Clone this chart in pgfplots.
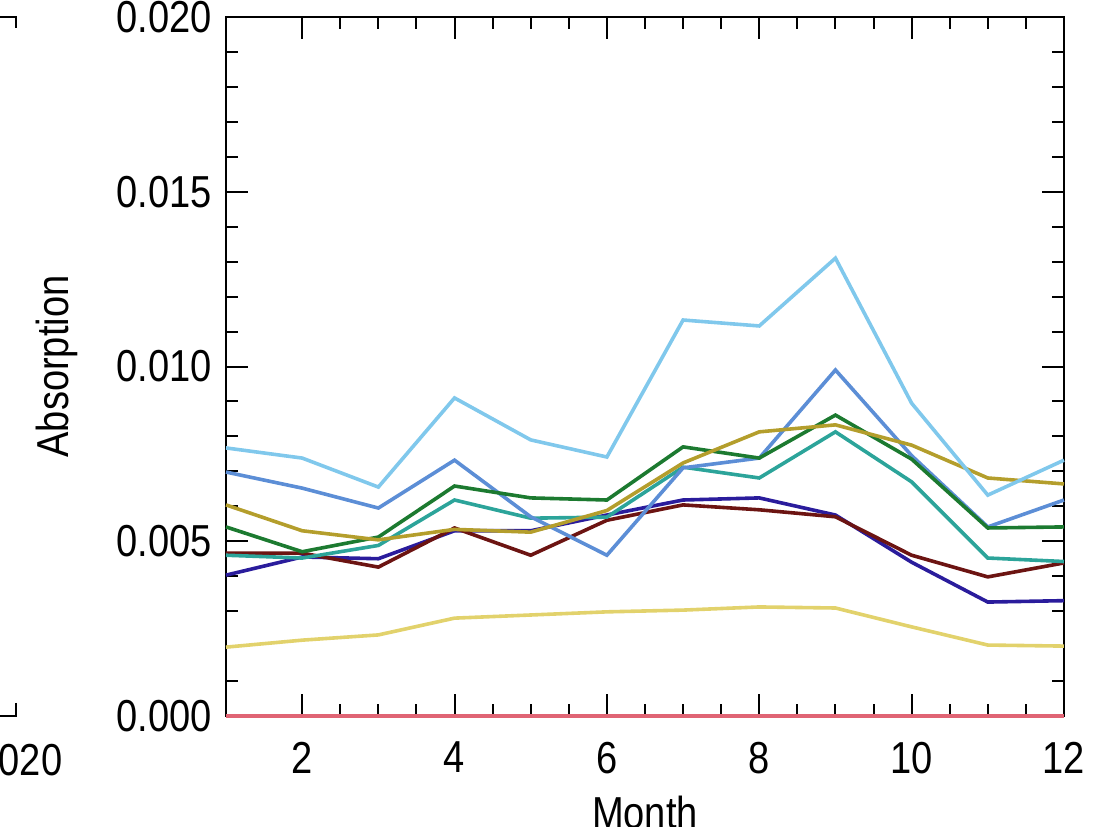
\documentclass[border=0pt]{standalone}
\usepackage{pgfplots}
\usepackage{pgfplotstable}
\pgfplotsset{compat=1.18}
\usepackage{fontspec}
\setmainfont[FakeStretch=0.85]{Liberation Sans}

\definecolor{skyline}{HTML}{80C8EC}
\definecolor{cornline}{HTML}{5C8ED6}
\definecolor{navyline}{HTML}{2A1C9C}
\definecolor{greenline}{HTML}{1C7A30}
\definecolor{tealline}{HTML}{2CA49A}
\definecolor{oliveline}{HTML}{B49E2C}
\definecolor{yellowline}{HTML}{E2D26C}
\definecolor{maroonline}{HTML}{6C1412}
\definecolor{pinkline}{HTML}{E06474}

% monthly absorption, one column per series
\pgfplotstableread{
m   sky      corn     green    olive    teal     maroon   navy     yellow   zero
1   0.00767  0.00698  0.00541  0.00604  0.00460  0.00466  0.00403  0.00197  0
2   0.00738  0.00652  0.00470  0.00530  0.00452  0.00466  0.00455  0.00217  0
3   0.00655  0.00595  0.00512  0.00504  0.00488  0.00426  0.00450  0.00232  0
4   0.00910  0.00732  0.00658  0.00534  0.00618  0.00538  0.00530  0.00280  0
5   0.00790  0.00570  0.00624  0.00526  0.00566  0.00460  0.00530  0.00289  0
6   0.00741  0.00460  0.00618  0.00588  0.00569  0.00560  0.00575  0.00298  0
7   0.01133  0.00710  0.00770  0.00724  0.00712  0.00604  0.00618  0.00303  0
8   0.01116  0.00738  0.00738  0.00813  0.00681  0.00590  0.00624  0.00312  0
9   0.01310  0.00990  0.00861  0.00833  0.00813  0.00570  0.00575  0.00309  0
10  0.00895  0.00745  0.00735  0.00775  0.00670  0.00460  0.00440  0.00255  0
11  0.00632  0.00541  0.00538  0.00681  0.00452  0.00398  0.00326  0.00203  0
12  0.00732  0.00618  0.00541  0.00664  0.00442  0.00438  0.00330  0.00200  0
}\absdata

\begin{document}
\begin{tikzpicture}
\begin{axis}[
  name=ax,
  at={(0,0)}, anchor=south west,
  scale only axis,
  width=209.5pt, height=174.75pt,
  xmin=1, xmax=12,
  ymin=0, ymax=0.02,
  xtick={2,4,6,8,10,12},
  ytick={0,0.005,0.010,0.015,0.020},
  minor x tick num=3,
  minor y tick num=4,
  tick align=inside,
  major tick length=5.5pt,
  minor tick length=3pt,
  every tick/.style={black, line width=0.5pt},
  axis line style={black, line width=0.6pt},
  scaled y ticks=false,
  yticklabel style={/pgf/number format/fixed, /pgf/number format/fixed zerofill, /pgf/number format/precision=3},
  /pgf/number format/assume math mode=true,
  every tick label/.append style={font=\fontsize{11.2}{13}\selectfont},
  xticklabel style={yshift=-3pt},
  xlabel={Month},
  ylabel={Absorption},
  xlabel style={at={(axis description cs:0.5,-0.113)}, anchor=north, inner sep=0pt, font=\fontsize{11.2}{13}\selectfont},
  ylabel style={at={(axis description cs:-0.2017,0.5)}, anchor=center, font=\fontsize{11.2}{13}\selectfont},
  clip=false,
  every axis plot/.append style={line width=0.9pt, no marks},
]
\addplot[pinkline, line width=1.1pt] table[x=m, y=zero] {\absdata};
\addplot[yellowline] table[x=m, y=yellow] {\absdata};
\addplot[navyline] table[x=m, y=navy] {\absdata};
\addplot[maroonline] table[x=m, y=maroon] {\absdata};
\addplot[tealline] table[x=m, y=teal] {\absdata};
\addplot[cornline] table[x=m, y=corn] {\absdata};
\addplot[greenline] table[x=m, y=green] {\absdata};
\addplot[oliveline] table[x=m, y=olive] {\absdata};
\addplot[skyline] table[x=m, y=sky] {\absdata};
\end{axis}
% edge of the neighbouring panel, cut off at the left
\draw[black, line width=0.6pt] (-56.5pt,174.75pt) -- (-52.5pt,174.75pt) -- (-52.5pt,172pt);
\draw[black, line width=0.6pt] (-52.5pt,3.25pt) -- (-52.5pt,0pt) -- (-56.5pt,0pt);
\node[anchor=north east, inner sep=0pt, font=\fontsize{11.2}{13}\selectfont] at (-40.75pt,-6.75pt) {2020};
\pgfresetboundingbox
\useasboundingbox (-56.5pt,-27.75pt) rectangle (220.5pt,179pt);
\end{tikzpicture}
\end{document}
